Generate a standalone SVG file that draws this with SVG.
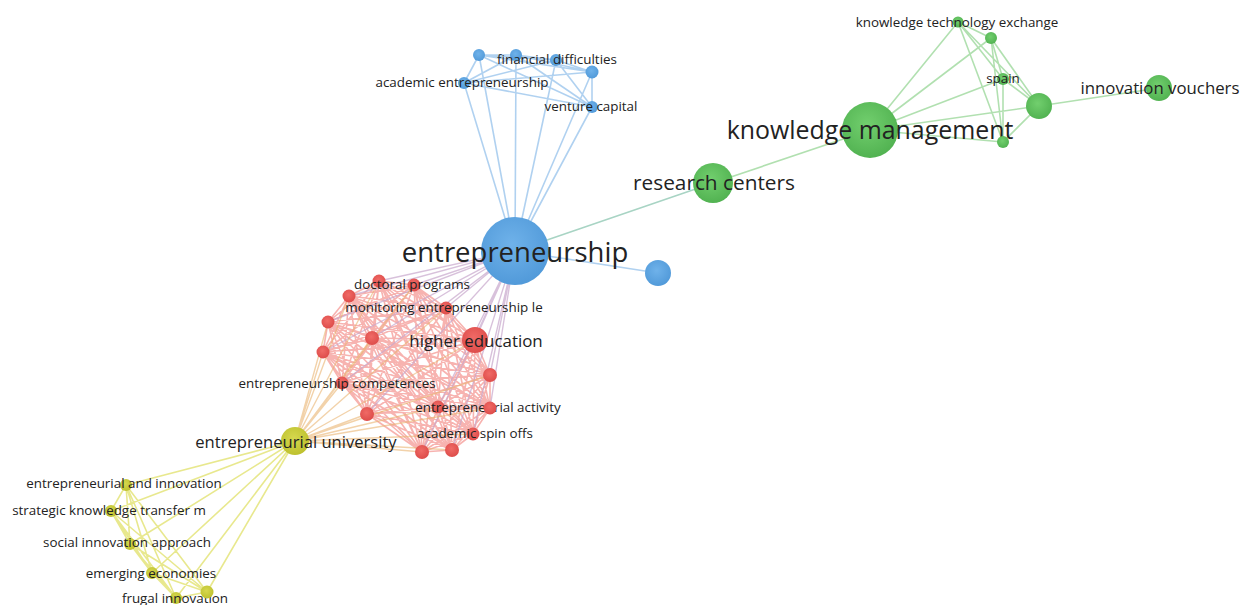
<svg xmlns="http://www.w3.org/2000/svg" width="1242" height="605" viewBox="0 0 1242 605">
<defs>
<radialGradient id="gb" cx="0.45" cy="0.4" r="0.65"><stop offset="0" stop-color="#6fb2ea"/><stop offset="1" stop-color="#4f98d8"/></radialGradient>
<radialGradient id="gg" cx="0.45" cy="0.4" r="0.65"><stop offset="0" stop-color="#72cf6e"/><stop offset="1" stop-color="#4fb04f"/></radialGradient>
<radialGradient id="gr" cx="0.45" cy="0.4" r="0.65"><stop offset="0" stop-color="#f06a66"/><stop offset="1" stop-color="#dc4a48"/></radialGradient>
<radialGradient id="gy" cx="0.45" cy="0.4" r="0.65"><stop offset="0" stop-color="#d6d84e"/><stop offset="1" stop-color="#bcbf2c"/></radialGradient>
</defs>
<style>
.e{fill:none;stroke-linecap:round}
.eb{stroke:#9cc6ec;stroke-width:1.6;opacity:.8}
.eg{stroke:#9ed89c;stroke-width:1.6;opacity:.8}
.er{stroke:#f07470;stroke-width:1.6;opacity:.55}
.erb{stroke:#c8a6cc;stroke-width:1.4;opacity:.7}
.ery{stroke:#eab472;stroke-width:1.4;opacity:.6}
.ey{stroke:#e2e272;stroke-width:1.6;opacity:.8}
.ebg{stroke:#a8d4c4;stroke-width:1.6}
.b{fill:url(#gb)}.g{fill:url(#gg)}.r{fill:url(#gr)}.y{fill:url(#gy)}
text{font-family:"Open Sans","Liberation Sans",sans-serif;fill:#222;text-anchor:middle;dominant-baseline:central}
.s{font-size:13.4px}
</style>
<rect width="1242" height="605" fill="#fff"/>
<g id="connectors">
<path class="e er" d="M379 281L414 285M379 281L349 296M379 281L446 308M379 281L328 322M379 281L372 338M379 281L475 340M379 281L323 352M379 281L490 375M379 281L342 383M379 281L438 407M379 281L490 408M379 281L473 434M379 281L422 452M379 281L452 450M379 281L367 414
M414 285L349 296M414 285L446 308M414 285L328 322M414 285L372 338M414 285L475 340M414 285L323 352M414 285L490 375M414 285L342 383M414 285L438 407M414 285L490 408M414 285L473 434M414 285L422 452M414 285L452 450M414 285L367 414
M349 296L446 308M349 296L328 322M349 296L372 338M349 296L475 340M349 296L323 352M349 296L490 375M349 296L342 383M349 296L438 407M349 296L490 408M349 296L473 434M349 296L422 452M349 296L452 450M349 296L367 414
M446 308L328 322M446 308L372 338M446 308L475 340M446 308L323 352M446 308L490 375M446 308L342 383M446 308L438 407M446 308L490 408M446 308L473 434M446 308L422 452M446 308L452 450M446 308L367 414
M328 322L372 338M328 322L475 340M328 322L323 352M328 322L490 375M328 322L342 383M328 322L438 407M328 322L490 408M328 322L473 434M328 322L422 452M328 322L452 450M328 322L367 414
M372 338L475 340M372 338L323 352M372 338L490 375M372 338L342 383M372 338L438 407M372 338L490 408M372 338L473 434M372 338L422 452M372 338L452 450M372 338L367 414
M475 340L323 352M475 340L490 375M475 340L342 383M475 340L438 407M475 340L490 408M475 340L473 434M475 340L422 452M475 340L452 450M475 340L367 414
M323 352L490 375M323 352L342 383M323 352L438 407M323 352L490 408M323 352L473 434M323 352L422 452M323 352L452 450M323 352L367 414
M490 375L342 383M490 375L438 407M490 375L490 408M490 375L473 434M490 375L422 452M490 375L452 450M490 375L367 414
M342 383L438 407M342 383L490 408M342 383L473 434M342 383L422 452M342 383L452 450M342 383L367 414
M438 407L490 408M438 407L473 434M438 407L422 452M438 407L452 450M438 407L367 414
M490 408L473 434M490 408L422 452M490 408L452 450M490 408L367 414
M473 434L422 452M473 434L452 450M473 434L367 414
M422 452L452 450M422 452L367 414M452 450L367 414"/>
<path class="e erb" d="M515 251L379 281M515 251L414 285M515 251L349 296M515 251L446 308M515 251L328 322M515 251L372 338M515 251L475 340M515 251L323 352M515 251L490 375M515 251L342 383M515 251L438 407M515 251L490 408M515 251L473 434M515 251L422 452M515 251L452 450M515 251L367 414"/>
<path class="e ery" d="M295 441L379 281M295 441L414 285M295 441L349 296M295 441L446 308M295 441L328 322M295 441L372 338M295 441L475 340M295 441L323 352M295 441L490 375M295 441L342 383M295 441L438 407M295 441L490 408M295 441L473 434M295 441L422 452M295 441L452 450M295 441L367 414"/>
<path class="e eb" d="M515 251L479 55M515 251L516 55M515 251L556 60M515 251L592 72M515 251L464 83M515 251L592 107M515 251L658 273
M479 55L516 55M479 55L556 60M479 55L592 72M479 55L464 83M479 55L592 107M516 55L556 60M516 55L592 72M516 55L464 83M516 55L592 107M556 60L592 72M556 60L464 83M556 60L592 107M592 72L464 83M592 72L592 107M464 83L592 107"/>
<path class="e ebg" d="M515 251L713 183"/>
<path class="e eg" d="M713 183L870 130M870 130L958 22M870 130L991 38M870 130L1003 79M870 130L1039 106M870 130L1003 142
M958 22L991 38M958 22L1003 79M958 22L1039 106M958 22L1003 142M991 38L1003 79M991 38L1039 106M991 38L1003 142M1003 79L1039 106M1003 79L1003 142M1039 106L1003 142M1039 106L1159 88"/>
<path class="e ey" d="M295 441L126 485M295 441L111 511M295 441L130 544M295 441L152 573M295 441L176 598M295 441L207 592
M126 485L111 511M126 485L130 544M126 485L152 573M126 485L176 598M126 485L207 592M111 511L130 544M111 511L152 573M111 511L176 598M111 511L207 592M130 544L152 573M130 544L176 598M130 544L207 592M152 573L176 598M152 573L207 592M176 598L207 592"/>
</g>
<g id="n-entrepreneurship"><circle class="b" cx="515" cy="251" r="34"/><text x="515" y="251" font-size="27.5">entrepreneurship</text></g>
<g id="n-blue-small"><circle class="b" cx="658" cy="273" r="13"/></g>
<g id="n-b1"><circle class="b" cx="479" cy="55" r="6"/></g>
<g id="n-b2"><circle class="b" cx="516" cy="55" r="6"/></g>
<g id="n-financial-difficulties"><circle class="b" cx="556" cy="60" r="6"/><text class="s" x="557" y="59">financial difficulties</text></g>
<g id="n-b4"><circle class="b" cx="592" cy="72" r="6.5"/></g>
<g id="n-academic-entrepreneurship"><circle class="b" cx="464" cy="83" r="6"/><text class="s" x="462" y="82">academic entrepreneurship</text></g>
<g id="n-venture-capital"><circle class="b" cx="592" cy="107" r="6"/><text class="s" x="591" y="106">venture capital</text></g>
<g id="n-research-centers"><circle class="g" cx="713" cy="183" r="20"/><text x="714" y="182" font-size="20.8">research centers</text></g>
<g id="n-knowledge-management"><circle class="g" cx="870" cy="130" r="28"/><text x="870" y="129" font-size="24.9">knowledge management</text></g>
<g id="n-knowledge-technology-exchange"><circle class="g" cx="958" cy="22" r="5.5"/><text class="s" x="957" y="22">knowledge technology exchange</text></g>
<g id="n-g2"><circle class="g" cx="991" cy="38" r="6"/></g>
<g id="n-spain"><circle class="g" cx="1003" cy="79" r="6"/><text class="s" x="1003" y="78">spain</text></g>
<g id="n-g4"><circle class="g" cx="1039" cy="106" r="13"/></g>
<g id="n-g5"><circle class="g" cx="1003" cy="142" r="6"/></g>
<g id="n-innovation-vouchers"><circle class="g" cx="1159" cy="88" r="13"/><text x="1160" y="87" font-size="16.8">innovation vouchers</text></g>
<g id="n-r1"><circle class="r" cx="379" cy="281" r="6.5"/></g>
<g id="n-doctoral-programs"><circle class="r" cx="414" cy="285" r="6.5"/><text class="s" x="412" y="284">doctoral programs</text></g>
<g id="n-r3"><circle class="r" cx="349" cy="296" r="6.5"/></g>
<g id="n-monitoring"><circle class="r" cx="446" cy="308" r="6.5"/><text class="s" x="444" y="307">monitoring entrepreneurship le</text></g>
<g id="n-r5"><circle class="r" cx="328" cy="322" r="6.5"/></g>
<g id="n-r6"><circle class="r" cx="372" cy="338" r="7"/></g>
<g id="n-higher-education"><circle class="r" cx="475" cy="340" r="13"/><text x="476" y="340" font-size="16.9">higher education</text></g>
<g id="n-r8"><circle class="r" cx="323" cy="352" r="6.5"/></g>
<g id="n-r9"><circle class="r" cx="490" cy="375" r="7"/></g>
<g id="n-entrepreneurship-competences"><circle class="r" cx="342" cy="383" r="6.5"/><text class="s" x="337" y="383">entrepreneurship competences</text></g>
<g id="n-entrepreneurial-activity"><circle class="r" cx="438" cy="407" r="6.5"/><text class="s" x="488" y="407">entrepreneurial activity</text></g>
<g id="n-r12"><circle class="r" cx="490" cy="408" r="6.5"/></g>
<g id="n-academic-spin-offs"><circle class="r" cx="473" cy="434" r="6.5"/><text class="s" x="475" y="433">academic spin offs</text></g>
<g id="n-r14"><circle class="r" cx="422" cy="452" r="7"/></g>
<g id="n-r15"><circle class="r" cx="452" cy="450" r="7"/></g>
<g id="n-r16"><circle class="r" cx="367" cy="414" r="7"/></g>
<g id="n-entrepreneurial-university"><circle class="y" cx="295" cy="441" r="14"/><text x="296" y="441" font-size="16.6">entrepreneurial university</text></g>
<g id="n-entrepreneurial-and-innovation"><circle class="y" cx="126" cy="485" r="6"/><text class="s" x="124" y="483">entrepreneurial and innovation</text></g>
<g id="n-strategic-knowledge-transfer"><circle class="y" cx="111" cy="511" r="6"/><text class="s" x="109" y="510">strategic knowledge transfer m</text></g>
<g id="n-social-innovation-approach"><circle class="y" cx="130" cy="544" r="6"/><text class="s" x="127" y="542">social innovation approach</text></g>
<g id="n-emerging-economies"><circle class="y" cx="152" cy="573" r="6"/><text class="s" x="151" y="573">emerging economies</text></g>
<g id="n-frugal-innovation"><circle class="y" cx="176" cy="598" r="6"/><text class="s" x="175" y="598">frugal innovation</text></g>
<g id="n-y6"><circle class="y" cx="207" cy="592" r="6.5"/></g>
</svg>
